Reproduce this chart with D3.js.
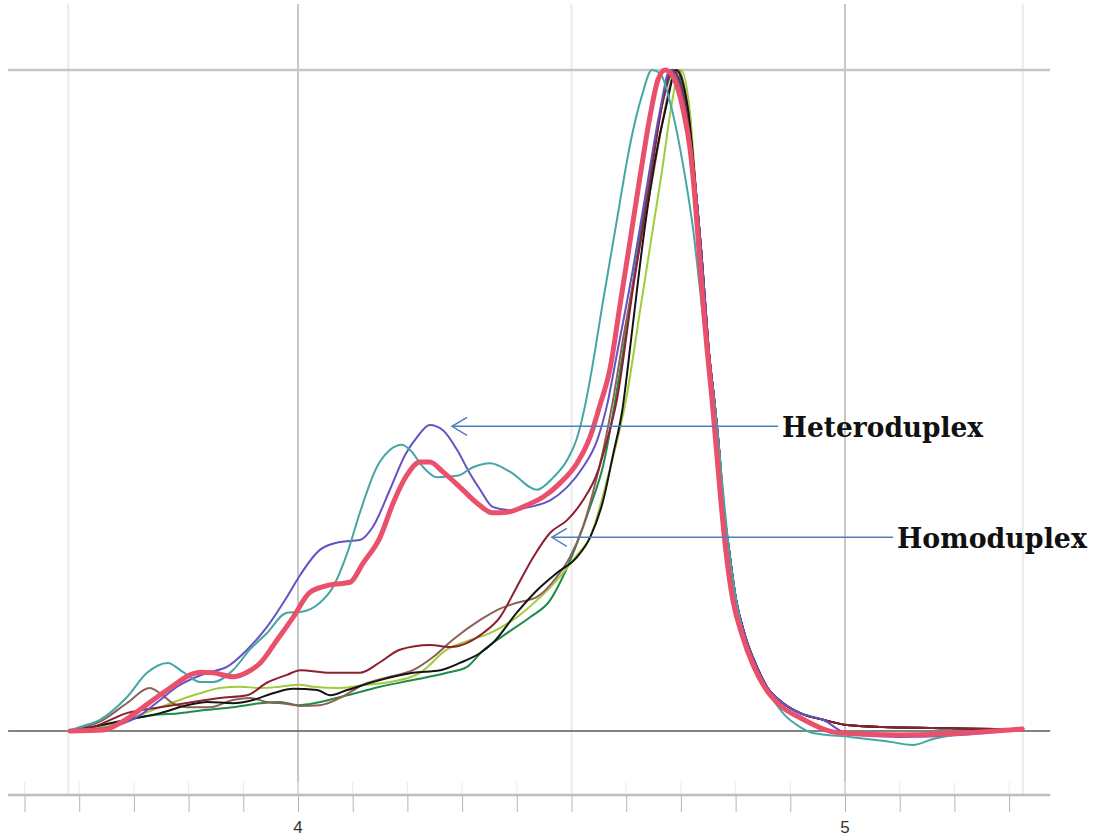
<!DOCTYPE html>
<html>
<head>
<meta charset="utf-8">
<script src="https://cdnjs.cloudflare.com/ajax/libs/d3/7.8.5/d3.min.js"></script>
<style>
body { margin: 0; background: #fff; }
</style>
</head>
<body>
<div id="chart"></div>
<script>
let width = 1095
let height = 839
let plotTop = 4
let axisY = 795

// [temperature, normalised difference %]
const tealCurve = [[3.580,0],[3.601,0.6],[3.638,1.7],[3.687,5.1],[3.724,8.8],[3.762,10.3],[3.790,8.9],[3.821,7.4],[3.845,7.4],[3.881,9.2],[3.912,12.3],[3.943,14.8],[3.980,17.9],[4.004,18.0],[4.040,19.4],[4.064,21.8],[4.090,26.9],[4.113,33.0],[4.144,39.9],[4.168,42.5],[4.190,43.3],[4.205,42.5],[4.229,39.9],[4.254,38.4],[4.291,38.6],[4.320,39.9],[4.351,40.5],[4.388,39.2],[4.437,36.5],[4.466,38.3],[4.492,41.0],[4.510,44.3],[4.525,49.3],[4.537,54.6],[4.558,65.2],[4.583,77.3],[4.607,88.7],[4.629,96.2],[4.647,100],[4.662,99.5],[4.680,95.2],[4.704,85.6],[4.722,76.1],[4.735,66.7],[4.748,57.0],[4.761,50.1],[4.770,42.5],[4.788,27.4],[4.801,19.8],[4.817,13.8],[4.839,8.9],[4.863,5.4],[4.890,2.4],[4.918,0.6],[4.941,-0.3],[5.009,-0.9],[5.073,-1.5],[5.124,-2.1],[5.161,-1.2],[5.223,-0.3],[5.283,0.15],[5.324,0.3]]

const blueCurve = [[3.592,0],[3.656,0.6],[3.706,2.1],[3.748,4.7],[3.779,6.7],[3.815,8.2],[3.839,8.9],[3.870,9.7],[3.907,12.3],[3.943,15.7],[3.980,20.3],[4.004,23.6],[4.040,27.4],[4.077,28.6],[4.113,28.9],[4.137,30.9],[4.168,36.5],[4.196,41.8],[4.218,44.5],[4.241,46.3],[4.265,45.5],[4.291,42.5],[4.314,39.0],[4.333,36.5],[4.356,33.9],[4.388,33.4],[4.424,33.9],[4.461,34.9],[4.492,36.9],[4.521,39.9],[4.547,44.0],[4.565,49.3],[4.583,57.0],[4.612,69.7],[4.638,82.5],[4.662,94.0],[4.680,100],[4.704,95.5]]

const pinkCurve = [[3.583,0],[3.644,0.15],[3.675,1.2],[3.706,2.9],[3.735,4.7],[3.766,6.5],[3.803,8.5],[3.821,8.9],[3.845,8.8],[3.881,8.2],[3.907,8.9],[3.931,10.3],[3.962,13.8],[3.991,17.2],[4.022,21.0],[4.059,22.1],[4.095,22.5],[4.119,25.4],[4.150,29.3],[4.174,34.5],[4.199,38.7],[4.223,40.7],[4.241,40.7],[4.265,39.2],[4.296,36.9],[4.327,34.5],[4.356,33.0],[4.382,33.1],[4.419,34.2],[4.448,35.4],[4.479,37.5],[4.510,40.5],[4.534,44.5],[4.552,49.3],[4.570,54.6],[4.589,64.6],[4.607,74.1],[4.625,83.7],[4.644,93.2],[4.658,98.5],[4.671,100],[4.686,98.9],[4.704,94.0],[4.717,87.9],[4.726,80.3],[4.733,72.8],[4.740,65.2],[4.748,57.6],[4.757,50.1],[4.765,42.5],[4.773,34.9],[4.782,27.4],[4.795,19.8],[4.812,14.5],[4.832,10.0],[4.854,6.5],[4.881,3.9],[4.918,2.0],[4.991,-0.3],[5.101,-0.6],[5.223,-0.3],[5.324,0.3]]

const maroonCurve = [[3.583,0],[3.625,0.6],[3.687,2.7],[3.748,3.6],[3.808,4.4],[3.857,5.0],[3.907,5.4],[3.943,7.3],[3.980,8.5],[4.004,9.2],[4.059,8.8],[4.113,8.8],[4.150,10.4],[4.186,12.3],[4.241,13.0],[4.278,12.7],[4.338,14.8],[4.369,17.2],[4.400,21.8],[4.430,26.3],[4.461,30.0],[4.492,31.9],[4.521,34.9],[4.547,39.0],[4.565,44.0],[4.583,50.1],[4.612,66.7],[4.644,83.4],[4.667,95.2],[4.684,100],[4.706,95.5]]

const brownCurve = [[3.583,0],[3.644,1.7],[3.687,4.2],[3.729,6.5],[3.748,5.7],[3.771,4.2],[3.797,3.6],[3.839,3.6],[3.881,4.7],[3.912,5.0],[3.943,4.4],[3.980,4.1],[4.004,3.8],[4.040,3.9],[4.077,5.0],[4.119,7.0],[4.168,8.2],[4.210,9.2],[4.247,11.2],[4.283,13.8],[4.333,16.8],[4.364,18.3],[4.400,19.4],[4.437,20.3],[4.473,23.3],[4.497,26.3],[4.521,30.9],[4.539,36.0],[4.558,42.5],[4.576,50.1],[4.594,59.2],[4.620,71.3],[4.644,81.8],[4.667,92.4],[4.686,99.2],[4.695,100],[4.713,94.0]]

const blackCurve = [[3.589,0],[3.687,1.7],[3.748,2.7],[3.797,3.9],[3.834,4.4],[3.881,4.2],[3.918,4.7],[3.954,5.7],[3.991,6.4],[4.035,6.2],[4.059,5.4],[4.090,6.2],[4.150,7.7],[4.210,8.8],[4.260,9.2],[4.296,10.3],[4.333,11.8],[4.356,13.3],[4.400,17.9],[4.437,21.3],[4.473,23.9],[4.510,26.3],[4.534,29.3],[4.558,34.9],[4.576,41.8],[4.593,48.6],[4.611,60.7],[4.631,74.3],[4.651,85.6],[4.675,95.2],[4.691,100],[4.713,94.0]]

const limeCurve = [[3.601,0],[3.687,1.7],[3.735,3.2],[3.784,4.7],[3.821,5.7],[3.857,6.5],[3.894,6.7],[3.931,6.5],[3.967,6.7],[4.004,7.0],[4.027,6.7],[4.077,6.5],[4.126,7.0],[4.168,7.4],[4.223,8.8],[4.272,12.3],[4.309,13.6],[4.351,14.8],[4.400,17.2],[4.437,19.8],[4.473,22.8],[4.510,26.6],[4.534,29.3],[4.565,38.0],[4.601,50.7],[4.625,63.4],[4.649,76.1],[4.667,85.6],[4.680,93.2],[4.693,98.9],[4.700,100],[4.717,93.2]]

const greenCurve = [[3.607,0],[3.638,0.6],[3.687,1.7],[3.735,2.4],[3.784,2.7],[3.834,3.2],[3.881,3.6],[3.931,4.2],[3.967,4.4],[4.000,3.9],[4.022,4.1],[4.090,5.4],[4.150,6.7],[4.210,7.7],[4.272,8.8],[4.309,9.7],[4.336,12.0],[4.382,14.8],[4.424,17.2],[4.461,19.8],[4.484,23.3],[4.510,28.4],[4.534,33.9],[4.558,40.2],[4.589,54.6],[4.620,72.0],[4.644,84.9],[4.667,95.2],[4.688,100],[4.709,94.7]]

// melting side shared by the thin curves
const sharedDescent = [[4.729,80.3],[4.737,72.8],[4.744,65.2],[4.751,57.6],[4.761,50.1],[4.770,42.5],[4.777,34.9],[4.788,27.4],[4.801,19.8],[4.817,14.5],[4.839,9.7],[4.857,6.7],[4.887,4.2],[4.918,2.7],[4.960,1.7],[5.004,0.9],[5.069,0.6],[5.161,0.45],[5.283,0.3],[5.324,0.3]]

const blueTail = [[5.004,-0.4],[5.101,-0.9],[5.212,-0.6],[5.324,0.3]]

const minorTicks = [3.5,3.6,3.7,3.8,3.9,4.0,4.1,4.2,4.3,4.4,4.5,4.6,4.7,4.8,4.9,5.0,5.1,5.2,5.3]
const majorTicks = [4, 5]
const majorGrid = [4, 5]
const lightGrid = [3.58, 4.5, 5.325]
const axisExtent = [3.47, 5.375]
const topLine = 100
const baseLine = 0

let x = d3.scaleLinear().domain([4, 5]).range([298, 845])
let y = d3.scaleLinear().domain([0, 100]).range([731, 70])

let svg = d3.select('#chart')
            .append('svg')
            .attr('width', width)
            .attr('height', height)

svg.selectAll('.light-grid')
    .data(lightGrid)
    .enter()
    .append('line')
    .attr('class', 'light-grid')
    .attr('x1', d => x(d))
    .attr('x2', d => x(d))
    .attr('y1', plotTop)
    .attr('y2', axisY)
    .attr('stroke', '#ebebeb')
    .attr('stroke-width', 2)

svg.selectAll('.major-grid')
    .data(majorGrid)
    .enter()
    .append('line')
    .attr('class', 'major-grid')
    .attr('x1', d => x(d))
    .attr('x2', d => x(d))
    .attr('y1', plotTop)
    .attr('y2', axisY)
    .attr('stroke', '#c8c8c8')
    .attr('stroke-width', 2)

svg.append('line')
    .attr('x1', x(axisExtent[0]))
    .attr('x2', x(axisExtent[1]))
    .attr('y1', y(topLine))
    .attr('y2', y(topLine))
    .attr('stroke', '#c6c6c6')
    .attr('stroke-width', 2.5)

// faint marks above the axis
svg.selectAll('.upper-tick')
    .data(minorTicks)
    .enter()
    .append('line')
    .attr('class', 'upper-tick')
    .attr('x1', d => x(d))
    .attr('x2', d => x(d))
    .attr('y1', axisY - 13)
    .attr('y2', axisY)
    .attr('stroke', '#ececec')
    .attr('stroke-width', 1)

svg.append('g')
    .attr('transform', 'translate(0,' + (axisY + 1) + ')')
    .call(d3.axisBottom(x)
        .tickValues(minorTicks)
        .tickSize(16)
        .tickFormat(''))
    .call(g => g.select('.domain').remove())
    .call(g => g.selectAll('line').attr('stroke', '#b4b4b4'))

svg.selectAll('.tick-label')
    .data(majorTicks)
    .enter()
    .append('text')
    .attr('class', 'tick-label')
    .attr('x', d => x(d))
    .attr('y', axisY + 38)
    .attr('text-anchor', 'middle')
    .attr('fill', '#333')
    .style('font-family', 'Liberation Sans Narrow, Liberation Sans, Arial, sans-serif')
    .style('font-size', '17px')
    .text(d => d)

svg.append('line')
    .attr('x1', x(axisExtent[0]))
    .attr('x2', x(axisExtent[1]))
    .attr('y1', axisY)
    .attr('y2', axisY)
    .attr('stroke', '#bdbdbd')
    .attr('stroke-width', 2.5)

svg.append('line')
    .attr('x1', x(axisExtent[0]))
    .attr('x2', x(axisExtent[1]))
    .attr('y1', y(baseLine))
    .attr('y2', y(baseLine))
    .attr('stroke', '#5a5a5a')
    .attr('stroke-width', 1.6)

let line = d3.line()
            .x(d => x(d[0]))
            .y(d => y(d[1]))
            .curve(d3.curveMonotoneX)

let series = [
    { name: 'green', color: '#1f8a4a', w: 2, data: greenCurve.concat(sharedDescent) },
    { name: 'lime', color: '#a0cc3c', w: 2, data: limeCurve.concat(sharedDescent) },
    { name: 'brown', color: '#8d6157', w: 2, data: brownCurve.concat(sharedDescent) },
    { name: 'black', color: '#141414', w: 2, data: blackCurve.concat(sharedDescent) },
    { name: 'maroon', color: '#8c1f30', w: 2, data: maroonCurve.concat(sharedDescent) },
    { name: 'blue', color: '#6652c4', w: 2, data: blueCurve.concat(sharedDescent.slice(0, 15), blueTail) },
    { name: 'teal', color: '#45a7a4', w: 2, data: tealCurve },
    { name: 'pink', color: '#e8506c', w: 5, data: pinkCurve }
]

svg.selectAll('.curve')
    .data(series)
    .enter()
    .append('path')
    .attr('class', 'curve')
    .attr('d', d => line(d.data))
    .attr('fill', 'none')
    .attr('stroke', d => d.color)
    .attr('stroke-width', d => d.w)
    .attr('stroke-linejoin', 'round')
    .attr('stroke-linecap', 'round')

// annotations: arrow tip, line end, label start (data coords)
const noteLabels = ['Heteroduplex', 'Homoduplex']
const noteTips = [[4.2815, 46.1], [4.464, 29.3]]
const noteEnds = [4.878, 5.088]
const noteTextX = [4.885, 5.095]
const noteWidths = [201, 190]

let notes = svg.selectAll('.note')
    .data(noteLabels)
    .enter()
    .append('g')
    .attr('class', 'note')

notes.append('line')
    .attr('x1', (d, i) => x(noteTips[i][0]))
    .attr('x2', (d, i) => x(noteEnds[i]))
    .attr('y1', (d, i) => y(noteTips[i][1]))
    .attr('y2', (d, i) => y(noteTips[i][1]))
    .attr('stroke', '#4f7fbf')
    .attr('stroke-width', 1.5)

notes.append('path')
    .attr('d', (d, i) => {
        let tx = x(noteTips[i][0])
        let ty = y(noteTips[i][1])
        return 'M' + (tx + 15) + ',' + (ty - 9) + 'L' + tx + ',' + ty + 'L' + (tx + 15) + ',' + (ty + 9)
    })
    .attr('fill', 'none')
    .attr('stroke', '#4f7fbf')
    .attr('stroke-width', 1.5)

notes.append('text')
    .attr('x', (d, i) => x(noteTextX[i]))
    .attr('y', (d, i) => y(noteTips[i][1]) + 11)
    .attr('textLength', (d, i) => noteWidths[i])
    .attr('lengthAdjust', 'spacingAndGlyphs')
    .style('font-family', 'DejaVu Serif, Liberation Serif, serif')
    .style('font-weight', 'bold')
    .style('font-size', '27px')
    .attr('fill', '#111')
    .text(d => d)
</script>
</body>
</html>
